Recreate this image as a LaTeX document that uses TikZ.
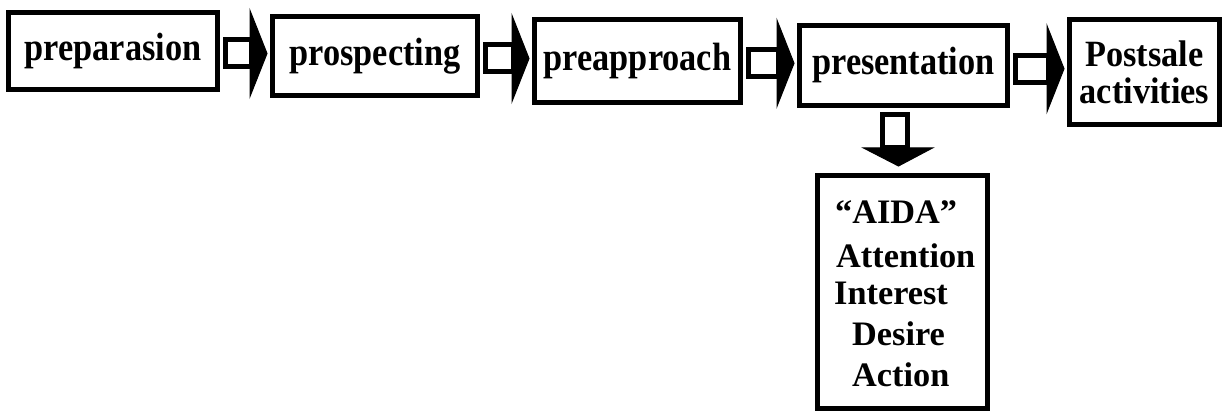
\documentclass[tikz,border=0pt]{standalone}
\usepackage{fontspec}
\setmainfont{Liberation Serif}
\usetikzlibrary{calc}
\newcommand\talltext[1]{\scalebox{1}[1.15]{#1}}
\newcommand\midtext[1]{\scalebox{1}[1.08]{#1}}
\tikzset{
  stepbox/.style={draw, line width=5pt, inner sep=0pt, align=center,
    font=\bfseries\fontsize{34.3}{37}\selectfont},
  aidatxt/.style={inner sep=0pt, anchor=base west,
    font=\bfseries\fontsize{34.3}{33}\selectfont},
  shaft/.style={draw, line width=5pt, fill=white},
  headtri/.style={fill=black, draw=black, line width=1pt},
}
\newcommand\rarrow[2]{%
  \coordinate (mid#1) at ($(#1.east)!.5!(#2.west)$);
  \draw[shaft] let \p1=(#1.east), \p2=(#2.west), \p3=(mid#1) in
    (\x1+5.5pt,\y3+13.5pt) rectangle (\x2-19pt,\y3-13.5pt);
  \filldraw[headtri] let \p1=(#1.east), \p2=(#2.west), \p3=(mid#1) in
    (\x2-20pt,\y3+43pt) -- (\x2-3pt,\y3) -- (\x2-20pt,\y3-43pt) -- cycle;
}
\begin{document}
\begin{tikzpicture}[x=1pt,y=-1pt]
\useasboundingbox (0,0) rectangle (1226,417);
\node[stepbox, minimum width=209pt, minimum height=77pt] (b1) at (113,51) {\talltext{preparasion}};
\node[stepbox, minimum width=205pt, minimum height=79pt] (b2) at (375,56) {\talltext{prospecting}};
\node[stepbox, minimum width=206pt, minimum height=83pt] (b3) at (637.5,61) {\talltext{preapproach}};
\node[stepbox, minimum width=208pt, minimum height=80pt] (b4) at (903.5,65.5) {\talltext{presentation}};
\node[stepbox, minimum width=150pt, minimum height=105pt] (b5) at (1144.5,72) {\midtext{Postsale}\\\midtext{activities}};
\node[stepbox, minimum width=170pt, minimum height=233pt] (aida) at (902.5,292) {};
\node[aidatxt] (l1) at (835,223) {“AIDA”};
\node[aidatxt] (l2) at (836,267) {Attention};
\node[aidatxt] (l3) at (834,304) {Interest};
\node[aidatxt] (l4) at (852,345) {Desire};
\node[aidatxt] (l5) at (852,386) {Action};
\rarrow{b1}{b2}
\rarrow{b2}{b3}
\rarrow{b3}{b4}
\rarrow{b4}{b5}
\draw[shaft] let \p1=(b4.south), \p2=(aida.north) in
  (\x1-21pt,\y1-6.5pt) rectangle (\x1+4pt,\y2+25pt);
\filldraw[headtri] let \p1=(b4.south), \p2=(aida.north) in
  (\x1-40pt,\y2+25pt) -- (\x1-5pt,\y2+7pt) -- (\x1+29pt,\y2+25pt) -- cycle;
\end{tikzpicture}
\end{document}
